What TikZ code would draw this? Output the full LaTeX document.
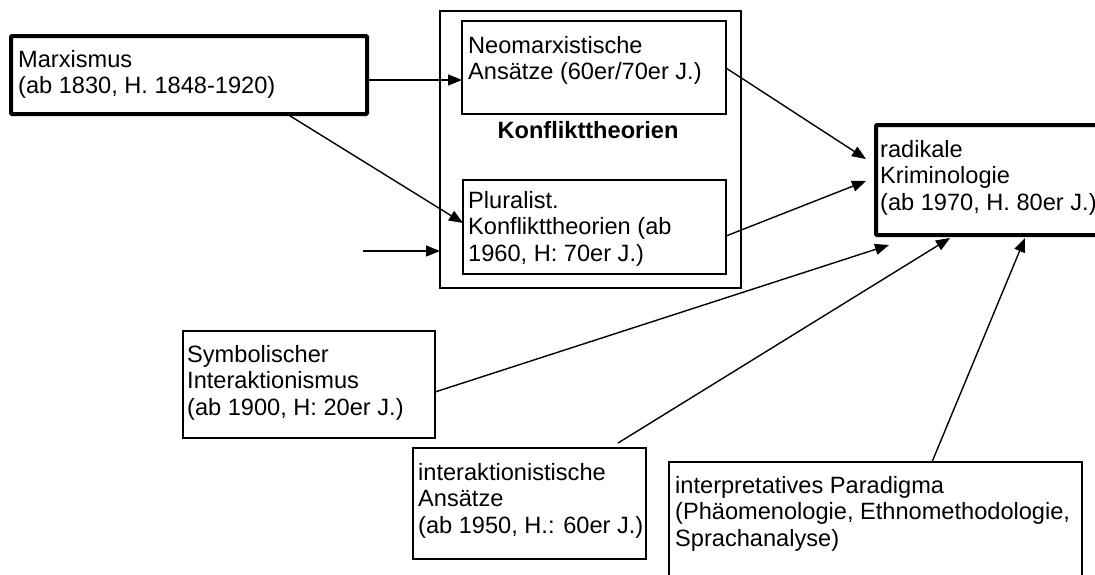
\documentclass[tikz,border=0pt]{standalone}
\usepackage{fontspec}
\setmainfont{Liberation Sans}
\usetikzlibrary{calc,arrows.meta}
\begin{document}
\begin{tikzpicture}[x=1pt,y=-1pt,
  txt/.style={font=\fontsize{23.6}{26.8}\selectfont, align=left, anchor=north west, inner sep=0pt},
  bx/.style={draw, inner sep=0pt, outer sep=0pt, anchor=north west},
  thinbox/.style={bx, line width=1.4pt},
  thickbox/.style={bx, line width=4pt, rounded corners=1pt},
  arr/.style={line width=1.4pt, -{Triangle[length=14pt,width=11pt]}}]
\path[use as bounding box, clip] (0,0) rectangle (1095,574);
\fill[white] (0,0) rectangle (1095,574);
% boxes
\node[thickbox, minimum width=356pt, minimum height=78pt] (marx) at (11,36) {};
\node[thinbox, minimum width=301pt, minimum height=277pt] (big) at (440,11) {};
\node[thinbox, minimum width=264pt, minimum height=93pt] (neo) at (462,21) {};
\node[thinbox, minimum width=263pt, minimum height=94pt] (plur) at (463,180) {};
\node[thickbox, minimum width=239pt, minimum height=110pt] (rad) at (876,125) {};
\node[thinbox, minimum width=252pt, minimum height=107pt] (sym) at (183,331) {};
\node[thinbox, minimum width=233pt, minimum height=111pt] (intera) at (413,448) {};
\node[thinbox, minimum width=413pt, minimum height=140pt] (interp) at (669,462) {};
% texts
\node[txt] (tmarx) at (18,48.2) {\strut Marxismus\\(ab 1830, H. 1848-1920)};
\node[txt] (tneo) at (468,34.2) {\strut Neomarxistische\\Ansätze (60er/70er J.)};
\node[font=\fontsize{23.6}{26.8}\selectfont\bfseries, anchor=base, inner sep=0pt] (tkon) at (588,138) {Konflikttheorien};
\node[txt] (tplur) at (468,189.2) {\strut Pluralist.\\Konflikttheorien (ab\\1960, H: 70er J.)};
\node[txt] (trad) at (880,138.2) {\strut radikale\\Kriminologie\\(ab 1970, H. 80er J.)};
\node[txt] (tsym) at (187,343.2) {\strut Symbolischer\\Interaktionismus\\(ab 1900, H: 20er J.)};
\node[txt] (tintera) at (418,461.2) {\strut interaktionistische\\Ansätze\\(ab 1950, H.: 60er J.)};
\node[txt] (tinterp) at (675,474.2) {\strut interpretatives Paradigma\\(Phäomenologie, Ethnomethodologie,\\Sprachanalyse)};
% arrows
\coordinate (src) at (363,251);
\draw[arr] ($(marx.north east)+(0,44)$) -- ($(neo.north west)+(0,59)$);
\draw[arr] ($(marx.south west)+(276,0)$) -- ($(plur.north west)+(0,43)$);
\draw[arr] (src) -- (src -| big.west);
\draw[arr] ($(neo.north east)+(0,47)$) -- ($(rad.north west)+(-10,34)$);
\draw[arr] ($(plur.north east)+(0,56)$) -- ($(rad.north west)+(-10,56)$);
\draw[arr] ($(sym.north east)+(0,61)$) -- ($(rad.south west)+(13,10)$);
\draw[arr] ($(intera.north west)+(205,-5)$) -- ($(rad.south west)+(74,3)$);
\draw[arr] ($(interp.north west)+(263,0)$) -- ($(rad.south west)+(149,3)$);
\end{tikzpicture}
\end{document}
